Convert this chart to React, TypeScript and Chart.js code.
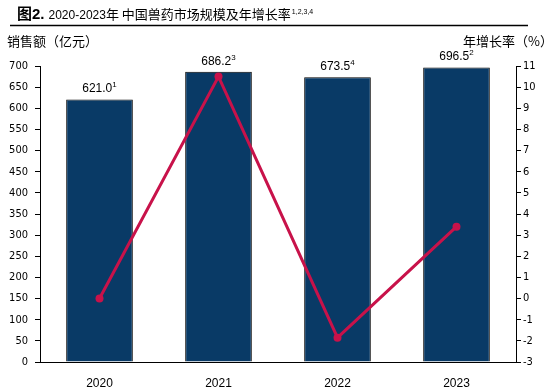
import React, { useEffect, useRef } from "react";
import { Chart, registerables } from "chart.js";

Chart.register(...registerables);

const categories = ["2020", "2021", "2022", "2023"];
const salesValues = [621.0, 686.2, 673.5, 696.5];
const salesNotes = ["1", "3", "4", "2"];
const growthValues = [0, 10.5, -1.85, 3.4];
const titleYears = "2020-2023";
const titleMain = "年 中国兽药市场规模及年增长率";
const titleNote = "1,2,3,4";
const leftAxisTitle = "销售额（亿元）";
const rightAxisTitle = "年增长率（%）";

const BAR_COLOR = "#093a66";
const LINE_COLOR = "#c8124a";
const TICK_FONT = "'Liberation Sans Narrow', 'DejaVu Sans Condensed', 'Liberation Sans', sans-serif";
const LABEL_FONT = "'Liberation Sans', 'Noto Sans CJK SC', sans-serif";
const CJK_FONT = "'Noto Sans CJK SC', sans-serif";

const overlayPlugin = {
  id: "overlay",
  afterDatasetsDraw(chart: any) {
    const ctx = chart.ctx;
    const meta = chart.getDatasetMeta(0);
    ctx.save();
    ctx.fillStyle = "#000";
    meta.data.forEach((bar: any, i: number) => {
      const txt = salesValues[i].toFixed(1);
      ctx.font = `12px ${LABEL_FONT}`;
      const w = ctx.measureText(txt).width;
      ctx.font = `8px ${LABEL_FONT}`;
      const sw = ctx.measureText(salesNotes[i]).width;
      const total = w + sw;
      const x0 = bar.x - total / 2;
      const yb = bar.y - 7;
      ctx.textAlign = "left";
      ctx.textBaseline = "alphabetic";
      ctx.font = `12px ${LABEL_FONT}`;
      ctx.fillText(txt, x0, yb);
      ctx.font = `8px ${LABEL_FONT}`;
      ctx.fillText(salesNotes[i], x0 + w, yb - 5);
    });
    ctx.restore();
  },
  afterDraw(chart: any) {
    const ctx = chart.ctx;
    ctx.save();
    ctx.fillStyle = "#000";
    ctx.textBaseline = "alphabetic";
    ctx.textAlign = "left";
    // title
    let x = 17;
    const yb = 19;
    ctx.font = `bold 15px ${CJK_FONT}`;
    ctx.fillText("图", x, yb);
    x += ctx.measureText("图").width;
    ctx.font = `bold 15px ${LABEL_FONT}`;
    ctx.fillText("2.", x, yb);
    x += ctx.measureText("2.").width + 4;
    ctx.font = `12px ${LABEL_FONT}`;
    ctx.fillText(titleYears, x, yb);
    x += ctx.measureText(titleYears).width;
    ctx.font = `13px ${CJK_FONT}`;
    ctx.fillText(titleMain, x, yb);
    x += ctx.measureText(titleMain).width + 1;
    ctx.font = `7px ${LABEL_FONT}`;
    ctx.fillText(titleNote, x, yb - 5);
    // rule
    ctx.strokeStyle = "#000";
    ctx.lineWidth = 1.5;
    ctx.beginPath();
    ctx.moveTo(10, 25.5);
    ctx.lineTo(528, 25.5);
    ctx.stroke();
    // axis titles
    ctx.font = `13px ${CJK_FONT}`;
    ctx.textBaseline = "middle";
    ctx.fillText(leftAxisTitle, 7, 41);
    ctx.textAlign = "right";
    ctx.fillText(rightAxisTitle, 553, 41);
    ctx.restore();
  },
};

export default function App() {
  const ref = useRef<HTMLCanvasElement | null>(null);
  useEffect(() => {
    document.body.style.margin = "0";
    const canvas = ref.current;
    if (!canvas) return;
    const chart = new Chart(canvas, {
      data: {
        labels: categories,
        datasets: [
          {
            type: "bar",
            label: "销售额",
            data: salesValues,
            backgroundColor: BAR_COLOR,
            borderColor: "#000",
            borderWidth: 1,
            barPercentage: 0.56,
            categoryPercentage: 1,
            yAxisID: "y",
            order: 2,
          },
          {
            type: "line",
            label: "年增长率",
            data: growthValues,
            borderColor: LINE_COLOR,
            backgroundColor: LINE_COLOR,
            borderWidth: 3,
            pointRadius: 4,
            pointBackgroundColor: LINE_COLOR,
            pointBorderWidth: 0,
            tension: 0,
            yAxisID: "y1",
            order: 1,
          },
        ],
      } as any,
      options: {
        responsive: false,
        animation: false,
        layout: { padding: { top: 66, left: 0, right: 0, bottom: 0 } },
        plugins: {
          legend: { display: false },
          tooltip: { enabled: false },
          title: { display: false },
        },
        scales: {
          x: {
            grid: { display: false },
            border: { display: true, color: "#000", width: 1 },
            ticks: {
              color: "#000",
              font: { family: LABEL_FONT, size: 12 },
              padding: 6,
            },
            afterFit: (s: any) => {
              s.height = 26;
            },
          },
          y: {
            position: "left",
            min: 0,
            max: 700,
            grid: {
              drawOnChartArea: false,
              drawTicks: true,
              tickLength: 5,
              color: "#000",
            },
            border: { display: true, color: "#000", width: 1 },
            ticks: {
              stepSize: 50,
              color: "#000",
              font: { family: TICK_FONT, size: 11 },
              padding: 7,
            },
            afterFit: (s: any) => {
              s.width = 40;
            },
          },
          y1: {
            position: "right",
            min: -3,
            max: 11,
            grid: {
              drawOnChartArea: false,
              drawTicks: true,
              tickLength: 5,
              color: "#000",
            },
            border: { display: true, color: "#000", width: 1 },
            ticks: {
              stepSize: 1,
              color: "#000",
              font: { family: TICK_FONT, size: 11 },
              padding: 2,
            },
            afterFit: (s: any) => {
              s.width = 38;
            },
          },
        },
      } as any,
      plugins: [overlayPlugin],
    });
    return () => chart.destroy();
  }, []);
  return <canvas ref={ref} width={554} height={388} style={{ display: "block" }} />;
}
